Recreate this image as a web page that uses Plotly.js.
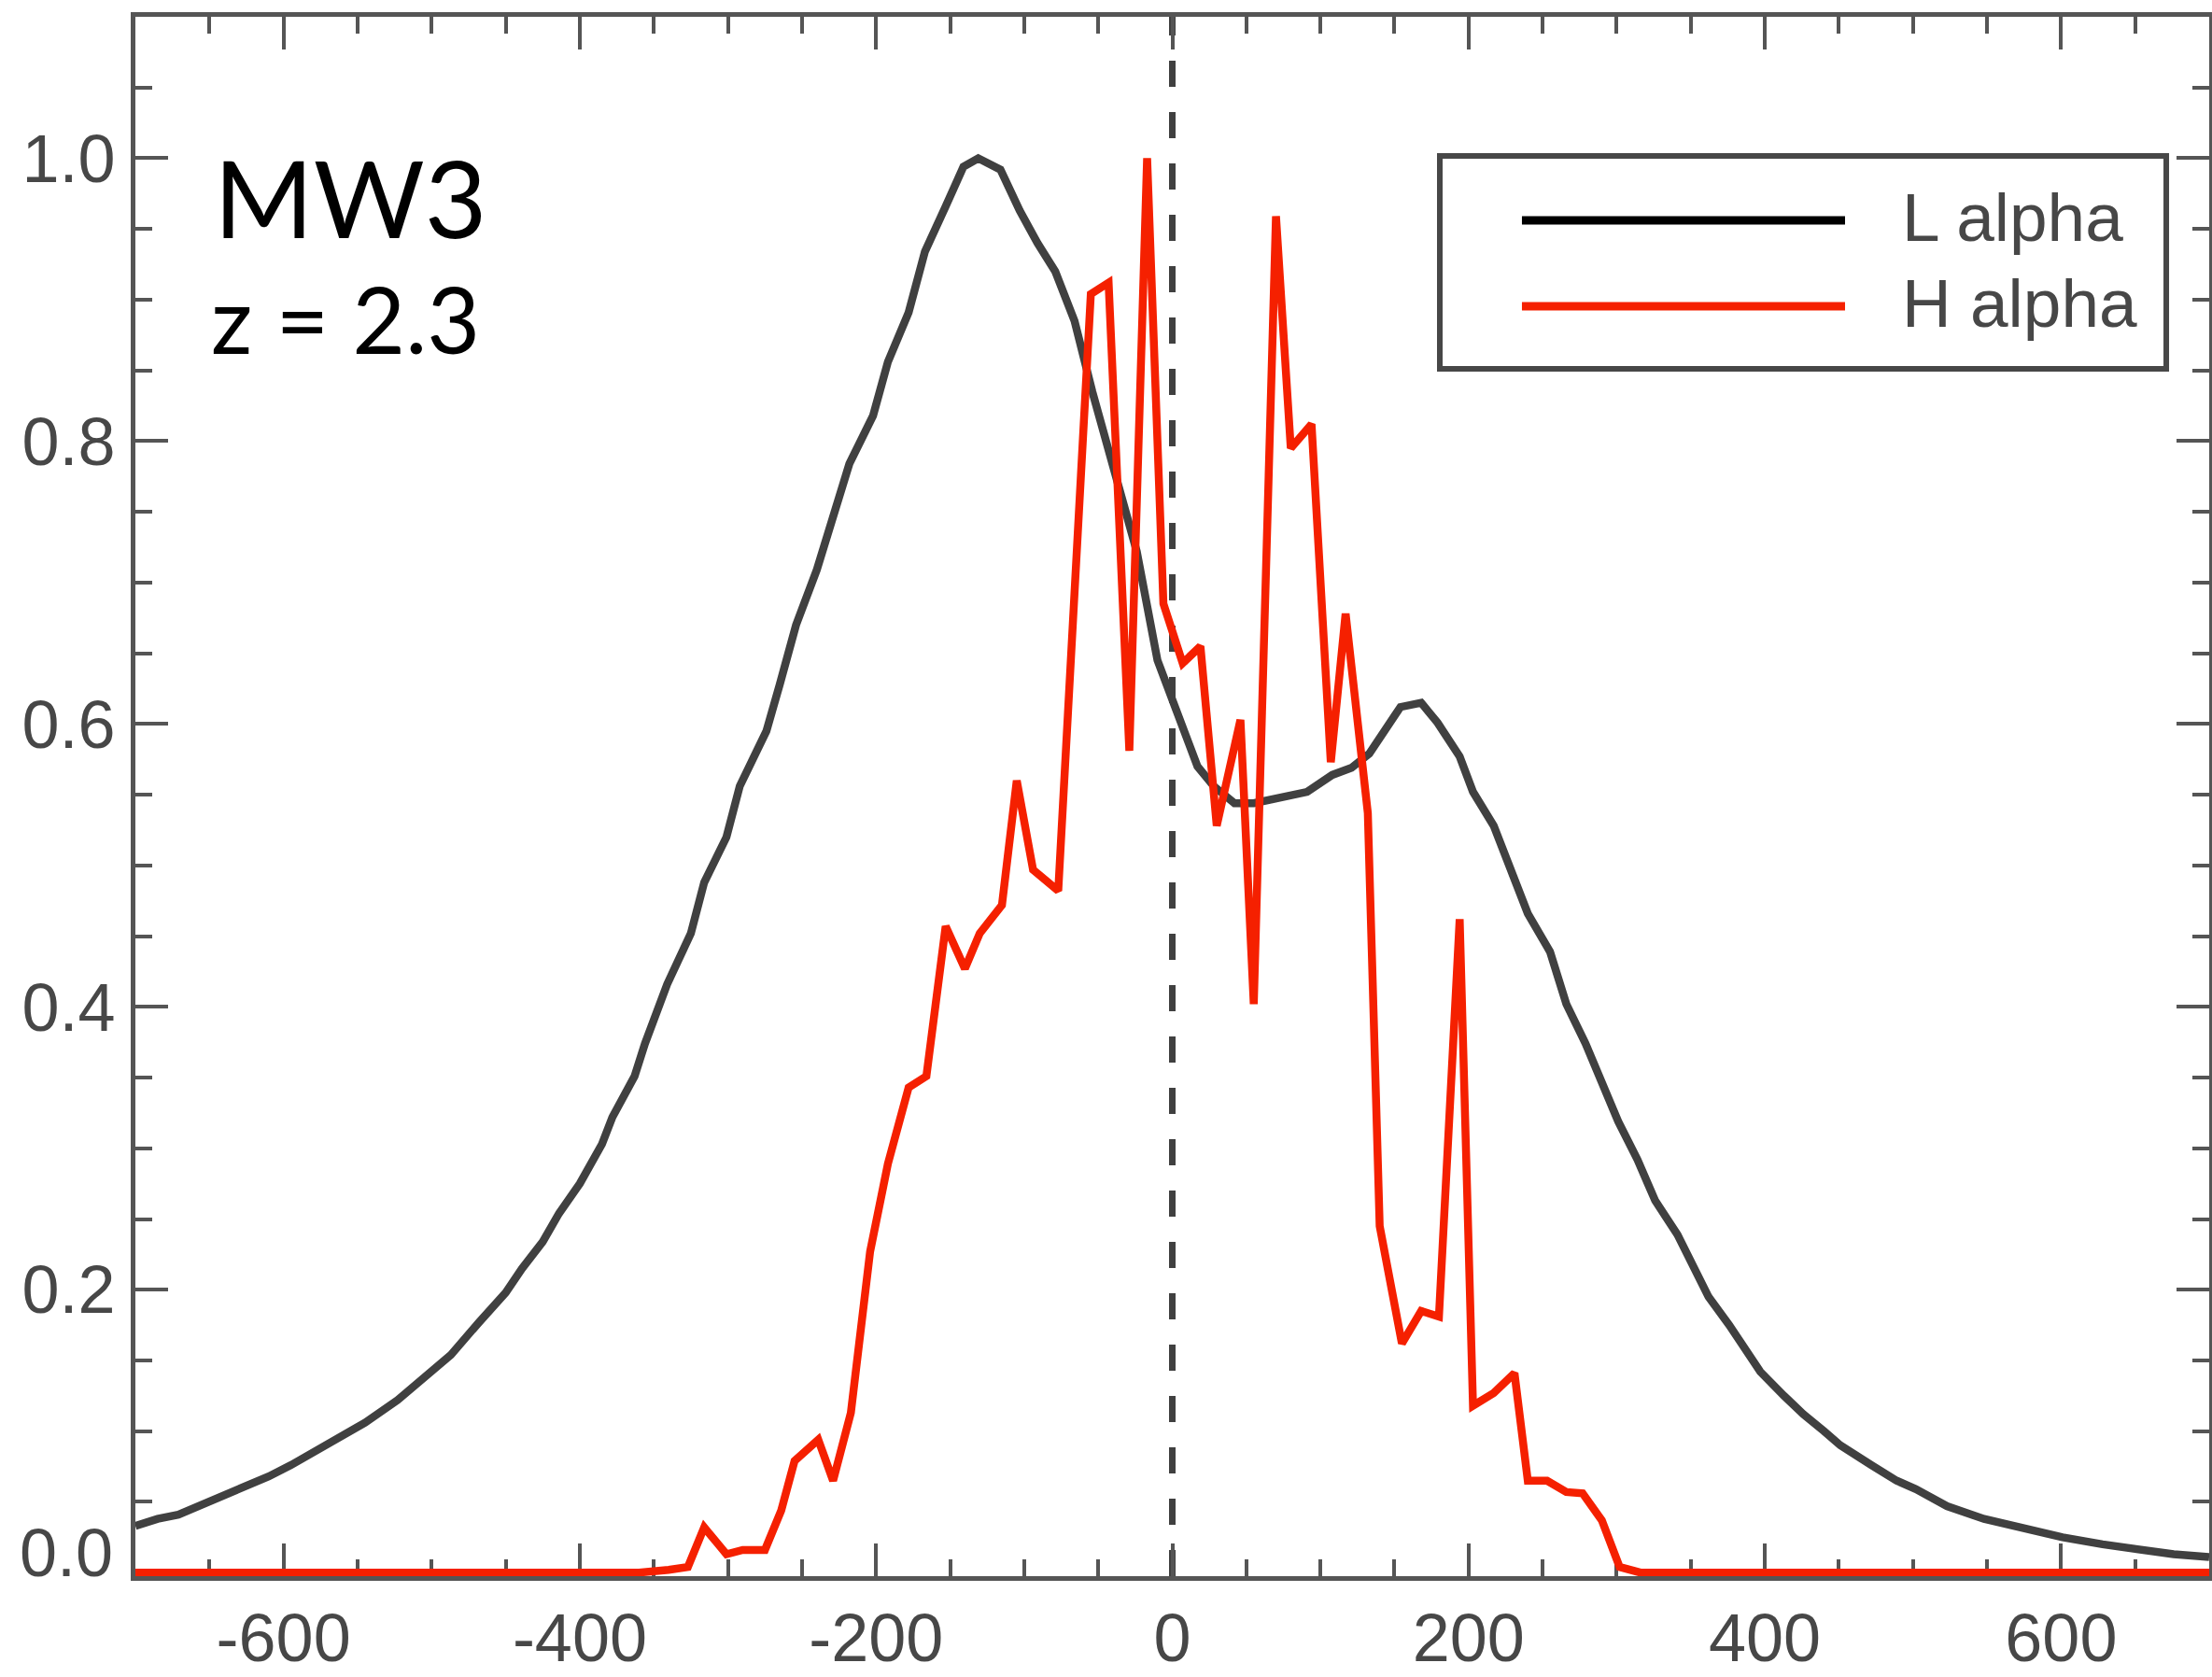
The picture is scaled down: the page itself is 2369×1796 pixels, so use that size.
<!DOCTYPE html>
<html>
<head>
<meta charset="utf-8">
<script src="https://cdn.plot.ly/plotly-3.0.1.min.js"></script>
<style>
  html, body { margin: 0; padding: 0; background: #ffffff; }
  #chart { width: 2369px; height: 1796px; }
</style>
</head>
<body>
<div id="chart"></div>
<script>
// ---- Data ----
const lyaVelocity = [-700, -685, -671, -650, -628, -610, -595, -574, -559, -545, -523, -501, -487, -468, -450, -439, -425, -414, -400, -385, -378, -363, -356, -341, -325, -316, -301, -292, -274, -265, -254, -240, -230, -218, -202, -192, -178, -167, -153, -141, -131, -116, -103, -91, -79, -66, -54, -40, -24, -10, 0, 17, 28, 42, 55, 80, 91, 108, 121, 133, 142, 154, 168, 179, 194, 203, 217, 230, 240, 255, 266, 279, 290, 301, 314, 326, 341, 362, 376, 397, 413, 426, 440, 451, 472, 489, 502, 523, 548, 574, 601, 628, 655, 676, 700];
const lyaFlux = [0.033, 0.038, 0.041, 0.050, 0.060, 0.068, 0.076, 0.088, 0.098, 0.106, 0.122, 0.141, 0.154, 0.177, 0.198, 0.215, 0.234, 0.254, 0.275, 0.303, 0.322, 0.351, 0.374, 0.416, 0.452, 0.488, 0.520, 0.556, 0.595, 0.628, 0.670, 0.709, 0.745, 0.784, 0.818, 0.856, 0.891, 0.934, 0.966, 0.994, 1.000, 0.992, 0.963, 0.940, 0.920, 0.885, 0.835, 0.780, 0.722, 0.645, 0.618, 0.570, 0.556, 0.544, 0.544, 0.549, 0.552, 0.564, 0.569, 0.579, 0.594, 0.612, 0.615, 0.601, 0.577, 0.552, 0.528, 0.495, 0.466, 0.439, 0.402, 0.374, 0.348, 0.319, 0.292, 0.263, 0.239, 0.195, 0.175, 0.142, 0.125, 0.112, 0.100, 0.090, 0.076, 0.065, 0.059, 0.047, 0.038, 0.031, 0.025, 0.020, 0.016, 0.013, 0.011];

const haVelocity = [-700, -360, -340, -327, -316, -301, -290, -275, -264, -255, -239, -229, -217, -204, -192, -178, -166, -153, -140, -130, -115, -105, -94, -77, -55, -43, -29, -17, -6, 7, 19, 30, 46, 55, 70, 80, 94, 107, 117, 132, 140, 155, 168, 180, 194, 203, 217, 231, 240, 253, 266, 277, 290, 302, 316, 700];
const haFlux = [0, 0, 0.002, 0.004, 0.032, 0.013, 0.016, 0.016, 0.044, 0.079, 0.094, 0.065, 0.113, 0.227, 0.289, 0.343, 0.351, 0.457, 0.427, 0.452, 0.472, 0.560, 0.497, 0.482, 0.904, 0.912, 0.581, 1.000, 0.685, 0.643, 0.655, 0.528, 0.603, 0.402, 0.959, 0.795, 0.812, 0.573, 0.678, 0.537, 0.245, 0.162, 0.185, 0.181, 0.462, 0.118, 0.127, 0.141, 0.065, 0.065, 0.057, 0.056, 0.037, 0.004, 0, 0];

const seriesNames = ['L alpha', 'H alpha'];
const xTickValues = [-600, -400, -200, 0, 200, 400, 600];
const yTickValues = [0.0, 0.2, 0.4, 0.6, 0.8, 1.0];
const panelLabel = 'MW3';
const redshiftLabel = 'z = 2.3';

// ---- Styles ----
const darkLine = '#404040';
const redLine = '#f52000';
const axisColor = '#555555';
const labelColor = '#474747';
const tickFont = { family: 'Liberation Sans, Arial, Helvetica, sans-serif', size: 72, color: labelColor };

const traces = [
  { x: lyaVelocity, y: lyaFlux, type: 'scatter', mode: 'lines', name: seriesNames[0],
    line: { color: darkLine, width: 8.5 }, showlegend: false, hoverinfo: 'skip' },
  { x: haVelocity, y: haFlux, type: 'scatter', mode: 'lines', name: seriesNames[1],
    line: { color: redLine, width: 8.5 }, showlegend: false, hoverinfo: 'skip' }
];

const axisCommon = {
  showgrid: false, zeroline: false,
  showline: true, linecolor: axisColor, linewidth: 5,
  mirror: 'ticks', ticks: 'inside', ticklen: 35, tickwidth: 4, tickcolor: axisColor,
  tickfont: tickFont, layer: 'below traces'
};

// legend geometry (paper coordinates)
const lgX0 = 0.629, lgX1 = 0.9793, lgY0 = 0.7743, lgY1 = 0.9108;
const sampleX0 = 0.6686, sampleX1 = 0.8244;
const rowY = [0.8695, 0.8144];
const legendColors = ['#000000', redLine];

const shapes = [
  { type: 'line', xref: 'x', yref: 'paper', x0: 0, x1: 0, y0: 0, y1: 1,
    line: { color: '#404040', width: 7, dash: '28px,27px' }, layer: 'below' },
  { type: 'rect', xref: 'paper', yref: 'paper', x0: lgX0, x1: lgX1, y0: lgY0, y1: lgY1,
    line: { color: '#474747', width: 6 }, fillcolor: '#ffffff', layer: 'above' }
];
seriesNames.forEach((n, i) => {
  shapes.push({ type: 'line', xref: 'paper', yref: 'paper', x0: sampleX0, x1: sampleX1, y0: rowY[i], y1: rowY[i],
    line: { color: legendColors[i], width: 9 }, layer: 'above' });
});

const annotations = [
  { xref: 'paper', yref: 'paper', x: 0.0369, y: 0.885, xanchor: 'left', yanchor: 'middle',
    text: panelLabel, showarrow: false,
    font: { family: 'Lato, Open Sans, sans-serif', size: 115, color: '#000000' } },
  { xref: 'paper', yref: 'paper', x: 0.0355, y: 0.8066, xanchor: 'left', yanchor: 'middle',
    text: redshiftLabel, showarrow: false,
    font: { family: 'Lato, Open Sans, sans-serif', size: 98, color: '#000000' } },
  // the "0.0" label sits slightly raised above its tick in the reference
  { xref: 'paper', yref: 'y', x: 0, y: yTickValues[0], xanchor: 'right', yanchor: 'middle',
    xshift: -22, yshift: 21, text: yTickValues[0].toFixed(1), showarrow: false, font: tickFont }
];
seriesNames.forEach((n, i) => {
  annotations.push({ xref: 'paper', yref: 'paper', x: 0.851, y: rowY[i] + 0.002, xanchor: 'left', yanchor: 'middle',
    text: n, showarrow: false, font: { family: 'Liberation Sans, Arial, sans-serif', size: 73, color: labelColor } });
});

const layout = {
  width: 2369, height: 1796,
  margin: { l: 145, r: 3, t: 18, b: 108, pad: 0 },
  paper_bgcolor: '#ffffff', plot_bgcolor: '#ffffff',
  showlegend: false,
  xaxis: Object.assign({}, axisCommon, {
    range: [-700, 700], tickmode: 'array', tickvals: xTickValues,
    ticktext: xTickValues.map(String), ticklabelstandoff: 0,
    minor: { dtick: 50, tick0: 0, ticks: 'inside', ticklen: 18, tickwidth: 4, tickcolor: axisColor, showgrid: false }
  }),
  yaxis: Object.assign({}, axisCommon, {
    range: [-0.0025, 1.1], tickmode: 'array', tickvals: yTickValues,
    ticktext: yTickValues.map((v, i) => i === 0 ? '' : v.toFixed(1)), ticklabelstandoff: 2,
    minor: { dtick: 0.05, tick0: 0, ticks: 'inside', ticklen: 18, tickwidth: 4, tickcolor: axisColor, showgrid: false }
  }),
  shapes: shapes,
  annotations: annotations
};

Plotly.newPlot('chart', traces, layout, { staticPlot: true, displayModeBar: false });
</script>
</body>
</html>
